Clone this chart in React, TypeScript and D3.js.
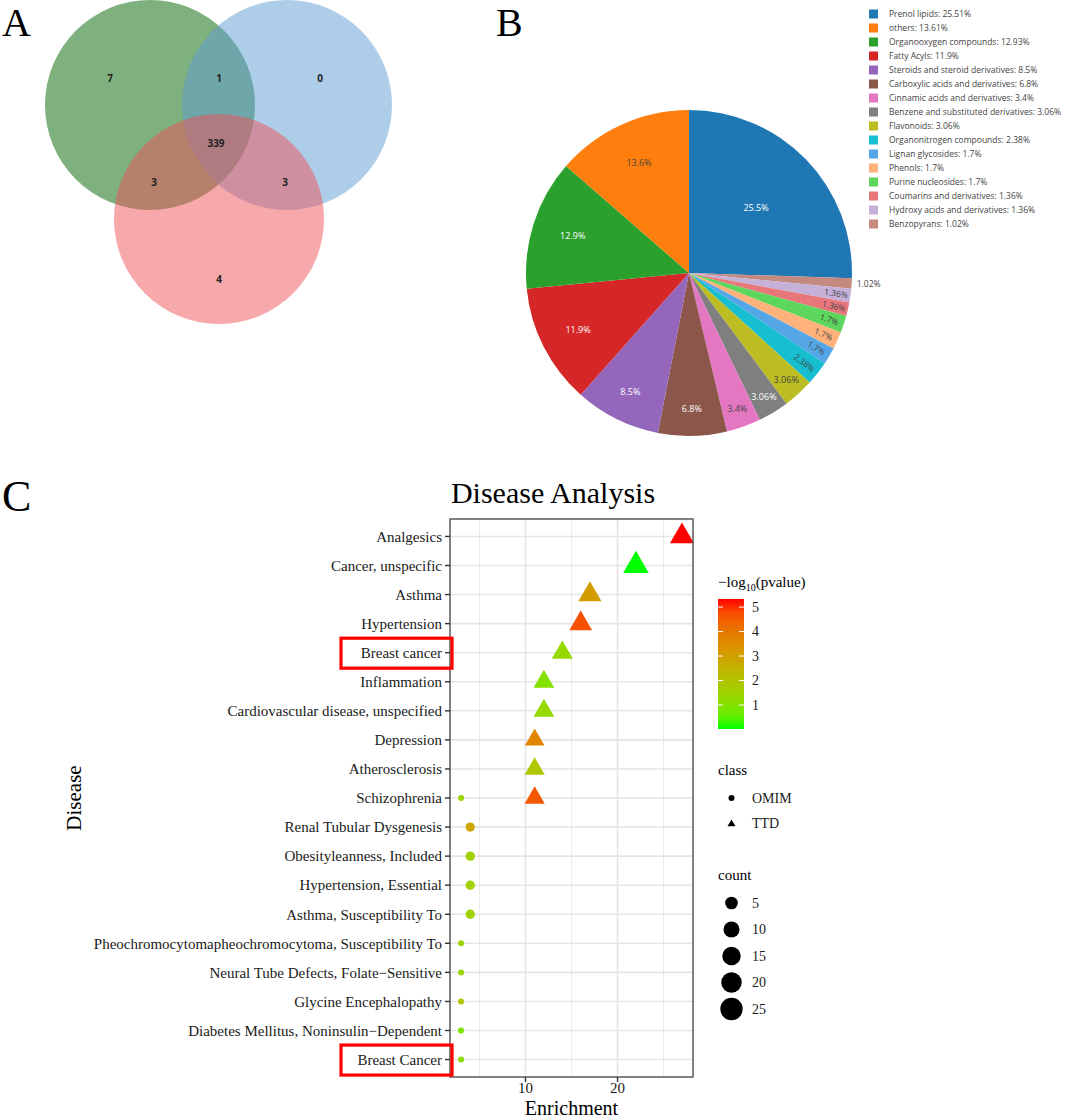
import React from 'react';
import * as d3 from 'd3';

// ---- Panel A: Venn region counts ----
const vennOnlyA = 7;
const vennAB = 1;
const vennOnlyB = 0;
const vennABC = 339;
const vennAC = 3;
const vennBC = 3;
const vennOnlyC = 4;

// ---- Panel B: compound classes (counts out of 294) ----
const pieCategories = [
  'Prenol lipids', 'others', 'Organooxygen compounds', 'Fatty Acyls',
  'Steroids and steroid derivatives', 'Carboxylic acids and derivatives',
  'Cinnamic acids and derivatives', 'Benzene and substituted derivatives',
  'Flavonoids', 'Organonitrogen compounds', 'Lignan glycosides', 'Phenols',
  'Purine nucleosides', 'Coumarins and derivatives', 'Hydroxy acids and derivatives',
  'Benzopyrans',
];
const pieCounts = [75, 40, 38, 35, 25, 20, 10, 9, 9, 7, 5, 5, 5, 4, 4, 3];
const pieColors = [
  '#1f77b4', '#ff7f0e', '#2ca02c', '#d62728', '#9467bd', '#8c564b', '#e377c2',
  '#7f7f7f', '#bcbd22', '#17becf', '#55a6e6', '#ffb27a', '#5cd65c', '#e8777a',
  '#c5b0d8', '#c4897f',
];

// ---- Panel C: disease enrichment ----
const diseases = [
  'Analgesics', 'Cancer, unspecific', 'Asthma', 'Hypertension', 'Breast cancer',
  'Inflammation', 'Cardiovascular disease, unspecified', 'Depression',
  'Atherosclerosis', 'Schizophrenia', 'Renal Tubular Dysgenesis',
  'Obesityleanness, Included', 'Hypertension, Essential', 'Asthma, Susceptibility To',
  'Pheochromocytomapheochromocytoma, Susceptibility To',
  'Neural Tube Defects, Folate\u2212Sensitive', 'Glycine Encephalopathy',
  'Diabetes Mellitus, Noninsulin\u2212Dependent', 'Breast Cancer',
];
const pointDisease = [
  'Analgesics', 'Cancer, unspecific', 'Asthma', 'Hypertension', 'Breast cancer',
  'Inflammation', 'Cardiovascular disease, unspecified', 'Depression',
  'Atherosclerosis', 'Schizophrenia',
  'Schizophrenia', 'Renal Tubular Dysgenesis', 'Obesityleanness, Included',
  'Hypertension, Essential', 'Asthma, Susceptibility To',
  'Pheochromocytomapheochromocytoma, Susceptibility To',
  'Neural Tube Defects, Folate\u2212Sensitive', 'Glycine Encephalopathy',
  'Diabetes Mellitus, Noninsulin\u2212Dependent', 'Breast Cancer',
];
const pointClass = ['TTD', 'TTD', 'TTD', 'TTD', 'TTD', 'TTD', 'TTD', 'TTD', 'TTD', 'TTD',
  'OMIM', 'OMIM', 'OMIM', 'OMIM', 'OMIM', 'OMIM', 'OMIM', 'OMIM', 'OMIM', 'OMIM'];
const pointEnrichment = [27, 22, 17, 16, 14, 12, 12, 11, 11, 11, 3, 4, 4, 4, 4, 3, 3, 3, 3, 3];
const pointCount = [21, 25, 19, 18, 15, 14, 14, 12, 13, 13, 1, 2, 2, 2, 2, 1, 1, 1, 1, 1];
const pointLogP = [5.33, 0.02, 3.1, 4.7, 1.3, 1.0, 1.3, 3.7, 1.9, 4.6,
  1.4, 2.8, 1.5, 1.5, 1.5, 1.4, 1.4, 1.9, 0.9, 1.2];
const colorTicks = [1, 2, 3, 4, 5];
const countLegend = [5, 10, 15, 20, 25];
const xTicks = [10, 20];
const xMinor = [5, 15, 25];
const highlighted = ['Breast cancer', 'Breast Cancer'];

const serif = '"Liberation Serif", "Times New Roman", serif';
const sans = '"Open Sans", "Liberation Sans", Arial, sans-serif';

const Venn: React.FC = () => {
  const r = 105;
  const circles = [
    { cx: 150, cy: 105, fill: '#006400' },
    { cx: 287, cy: 105, fill: '#5d9bd3' },
    { cx: 219, cy: 219, fill: '#ed5157' },
  ];
  const labels = [
    { x: 110, y: 78, v: vennOnlyA }, { x: 219, y: 78, v: vennAB },
    { x: 320, y: 78, v: vennOnlyB }, { x: 216, y: 143, v: vennABC },
    { x: 154, y: 182, v: vennAC }, { x: 285, y: 182, v: vennBC },
    { x: 219, y: 279, v: vennOnlyC },
  ];
  return (
    <g>
      {circles.map((c, i) => (
        <circle key={i} cx={c.cx} cy={c.cy} r={r} fill={c.fill} fillOpacity={0.5} />
      ))}
      {labels.map((l, i) => (
        <text key={i} x={l.x} y={l.y} dy="0.35em" textAnchor="middle"
          fontFamily={sans} fontWeight="bold" fontSize={10} fill="#222">{l.v}</text>
      ))}
    </g>
  );
};

const Pie: React.FC = () => {
  const cx = 689, cy = 273, r = 163;
  const total = d3.sum(pieCounts);
  // drawing order: first class clockwise from 12 o'clock, the rest in reverse
  const order = [0, ...d3.range(pieCounts.length - 1, 0, -1)];
  const arcs = d3.pie<number>().sort(null).value(i => pieCounts[i])(order);
  const arcGen = d3.arc<d3.PieArcDatum<number>>().innerRadius(0).outerRadius(r);
  const fmtIn = d3.format('.3~r');
  const fmtLegend = d3.format('.2~f');
  return (
    <g>
      <g transform={`translate(${cx},${cy})`}>
        {arcs.map(a => (
          <path key={a.data} d={arcGen(a) as string} fill={pieColors[a.data]} />
        ))}
        {arcs.map(a => {
          const i = a.data;
          const f = pieCounts[i] / total;
          const mid = (a.startAngle + a.endAngle) / 2;
          const label = fmtIn(f * 100) + '%';
          if (f < 0.012) {
            const lr = r + 15;
            return (
              <text key={i} x={Math.sin(mid) * lr + 2} y={-Math.cos(mid) * lr} dy="0.35em"
                textAnchor="middle" fontFamily={sans} fontSize={8.5} fill="#444">{label}</text>
            );
          }
          const ratio = Math.min(0.92, 0.93 - 1.4 * f);
          const x = Math.sin(mid) * r * ratio;
          const y = -Math.cos(mid) * r * ratio;
          const rot = f < 0.03 ? (mid * 180) / Math.PI - 90 : 0;
          const dark = d3.lab(pieColors[i]).l > 60;
          return (
            <text key={i} transform={`translate(${x},${y}) rotate(${rot})`} dy="0.35em"
              textAnchor="middle" fontFamily={sans} fontSize={f < 0.03 ? 8.5 : 9}
              fill={dark ? '#444' : '#fff'}>{label}</text>
          );
        })}
      </g>
      <g>
        {pieCategories.map((c, i) => (
          <g key={c} transform={`translate(869,${14 + i * 14})`}>
            <rect x={0} y={-4.5} width={9} height={9} fill={pieColors[i]} />
            <text x={20} y={0} dy="0.35em" fontFamily={sans} fontSize={8.5} fill="#444">
              {c}: {fmtLegend((pieCounts[i] / total) * 100)}%
            </text>
          </g>
        ))}
      </g>
    </g>
  );
};

const DotPlot: React.FC = () => {
  const left = 450, right = 693, top = 519, bottom = 1077;
  const x = d3.scaleLinear().domain([1.8, 28.2]).range([left, right]);
  const y = d3.scalePoint<string>().domain(diseases).range([top, bottom]).padding(0.6);
  const logExtent = d3.extent(pointLogP) as [number, number];
  const color = d3.scaleLinear<string>().domain(logExtent)
    .range(['#00ff00', '#ff0000']).interpolate(d3.interpolateLab);
  const diam = (c: number) => 6 + 17.3 * Math.sqrt((c - 1) / 27);
  const tri = (w: number) => d3.symbol(d3.symbolTriangle, (Math.sqrt(3) / 4) * w * w)() as string;

  // colour bar
  const barTop = 599, barBottom = 729, barX = 718, barW = 26;
  const cb = d3.scaleLinear().domain(logExtent).range([barBottom, barTop]);
  const stops = d3.range(0, 1.0001, 0.1);

  return (
    <g>
      <text x={553} y={503} textAnchor="middle" fontFamily={serif} fontSize={30} fill="#000">Disease Analysis</text>
      <rect x={left} y={top} width={right - left} height={bottom - top} fill="#fff" />
      {xMinor.map(v => (
        <line key={'m' + v} x1={x(v)} x2={x(v)} y1={top} y2={bottom} stroke="#ebebeb" strokeWidth={1} />
      ))}
      {xTicks.map(v => (
        <line key={'g' + v} x1={x(v)} x2={x(v)} y1={top} y2={bottom} stroke="#e5e5e5" strokeWidth={1.6} />
      ))}
      {diseases.map(d => (
        <line key={'h' + d} x1={left} x2={right} y1={y(d)} y2={y(d)} stroke="#e5e5e5" strokeWidth={1.6} />
      ))}
      {pointDisease.map((d, i) => {
        const cx = x(pointEnrichment[i]);
        const cy = y(d) as number;
        const w = diam(pointCount[i]);
        const fill = color(pointLogP[i]);
        return pointClass[i] === 'TTD'
          ? <path key={i} transform={`translate(${cx},${cy})`} d={tri(w * 1.15)} fill={fill} />
          : <circle key={i} cx={cx} cy={cy} r={w / 2} fill={fill} />;
      })}
      <rect x={left} y={top} width={right - left} height={bottom - top} fill="none" stroke="#4d4d4d" strokeWidth={1.4} />
      {/* y axis */}
      {diseases.map(d => (
        <g key={'y' + d}>
          <line x1={left - 5} x2={left} y1={y(d)} y2={y(d)} stroke="#333" strokeWidth={1.4} />
          <text x={left - 8} y={y(d)} dy="0.35em" textAnchor="end" fontFamily={serif} fontSize={15} fill="#1a1a1a">{d}</text>
        </g>
      ))}
      {highlighted.map(d => (
        <rect key={'hl' + d} x={341} y={(y(d) as number) - 14.5} width={111} height={30}
          fill="none" stroke="#ff0000" strokeWidth={3.2} />
      ))}
      {/* x axis */}
      {xTicks.map(v => (
        <g key={'x' + v}>
          <line x1={x(v)} x2={x(v)} y1={bottom} y2={bottom + 5} stroke="#333" strokeWidth={1.4} />
          <text x={x(v)} y={1093} textAnchor="middle" fontFamily={serif} fontSize={15} fill="#1a1a1a">{v}</text>
        </g>
      ))}
      <text x={(left + right) / 2} y={1114.5} textAnchor="middle" fontFamily={serif} fontSize={20} fill="#000">Enrichment</text>
      <text transform={`translate(81,${(top + bottom) / 2}) rotate(-90)`} textAnchor="middle" fontFamily={serif} fontSize={21} fill="#000">Disease</text>

      {/* colour legend */}
      <text x={barX} y={587} fontFamily={serif} fontSize={15} fill="#000">
        <tspan>{'\u2212log'}</tspan><tspan dy={4} fontSize={10}>10</tspan><tspan dy={-4}>(pvalue)</tspan>
      </text>
      <defs>
        <linearGradient id="cbar" x1="0" y1="1" x2="0" y2="0">
          {stops.map(t => (
            <stop key={t} offset={t} stopColor={color(logExtent[0] + t * (logExtent[1] - logExtent[0]))} />
          ))}
        </linearGradient>
      </defs>
      <rect x={barX} y={barTop} width={barW} height={barBottom - barTop} fill="url(#cbar)" />
      {colorTicks.map(v => (
        <g key={'c' + v}>
          <line x1={barX} x2={barX + 5} y1={cb(v)} y2={cb(v)} stroke="#fff" strokeWidth={1} />
          <line x1={barX + barW - 5} x2={barX + barW} y1={cb(v)} y2={cb(v)} stroke="#fff" strokeWidth={1} />
          <text x={752} y={cb(v)} dy="0.35em" fontFamily={serif} fontSize={14} fill="#1a1a1a">{v}</text>
        </g>
      ))}

      {/* class legend */}
      <text x={barX} y={775} fontFamily={serif} fontSize={15} fill="#000">class</text>
      <circle cx={731.5} cy={798} r={3} fill="#000" />
      <text x={752} y={798} dy="0.35em" fontFamily={serif} fontSize={14} fill="#1a1a1a">OMIM</text>
      <path transform="translate(731.5,824)" d={tri(8)} fill="#000" />
      <text x={752} y={823} dy="0.35em" fontFamily={serif} fontSize={14} fill="#1a1a1a">TTD</text>

      {/* count legend */}
      <text x={barX} y={880} fontFamily={serif} fontSize={15} fill="#000">count</text>
      {countLegend.map((c, i) => (
        <g key={'n' + c}>
          <circle cx={731.5} cy={903 + i * 26.5} r={diam(c) / 2} fill="#000" />
          <text x={752} y={903 + i * 26.5} dy="0.35em" fontFamily={serif} fontSize={14} fill="#1a1a1a">{c}</text>
        </g>
      ))}
    </g>
  );
};

const App: React.FC = () => (
  <svg width={1065} height={1119} style={{ position: 'absolute', left: 0, top: 0, display: 'block', background: '#fff' }}>
    <text x={2} y={36} fontFamily={serif} fontSize={40} fill="#000">A</text>
    <text x={496} y={36} fontFamily={serif} fontSize={40} fill="#000">B</text>
    <text x={2} y={511} fontFamily={serif} fontSize={44} fill="#000">C</text>
    <Venn />
    <Pie />
    <DotPlot />
  </svg>
);

export default App;
